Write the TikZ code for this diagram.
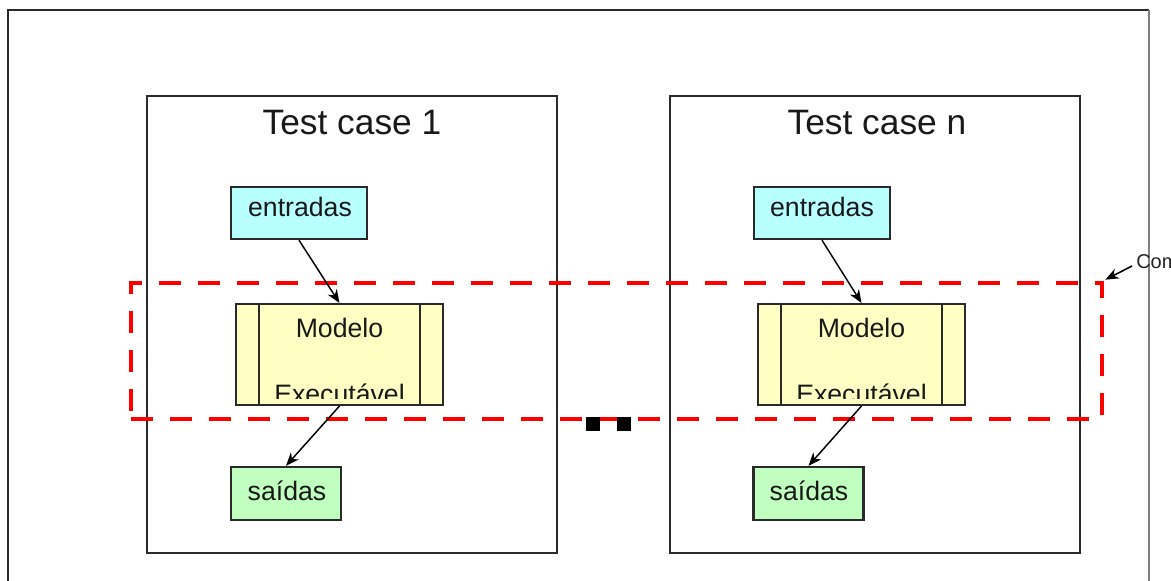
\documentclass[tikz,border=0pt]{standalone}
\usepackage{fontspec}
\setmainfont{Liberation Sans}
\usetikzlibrary{arrows.meta}
\definecolor{incyan}{HTML}{B8FFFF}
\definecolor{modyellow}{HTML}{FFFFC4}
\definecolor{outgreen}{HTML}{C0FFC0}
\definecolor{edge}{HTML}{2A2A2A}
\begin{document}
\begin{tikzpicture}[x=0.75pt,y=-0.75pt,
  casebox/.style={draw=edge,line width=1.8pt,minimum width=307.5pt,minimum height=342.75pt,inner sep=0pt},
  inbox/.style={draw=edge,line width=1.8pt,fill=incyan,minimum width=102pt,minimum height=39pt,inner sep=0pt},
  modbox/.style={draw=edge,line width=1.5pt,fill=modyellow,minimum width=155.25pt,minimum height=75.75pt,inner sep=0pt},
  outbox/.style={draw=edge,line width=1.8pt,fill=outgreen,minimum width=82.5pt,minimum height=39.75pt,inner sep=0pt},
  title/.style={font=\fontsize{26.5}{30}\selectfont,anchor=base,inner sep=0pt,text=black!90},
  lbl/.style={font=\fontsize{20}{23}\selectfont,anchor=base,inner sep=0pt,text=black!90},
  modlbl/.style={font=\fontsize{20}{24}\selectfont,anchor=base,inner sep=0pt,text=black!90},
  flow/.style={-{Stealth[length=10pt,width=8pt]},line width=1.1pt,draw=black},
  band/.style={draw=red,line width=3pt,dash pattern=on 16.5pt off 12.75pt,inner sep=0pt},
  dot/.style={fill=black,minimum size=10pt,inner sep=0pt}
]
\useasboundingbox (0,0) rectangle (1171,581);
\clip (0,0) rectangle (1171,581);

% outer frame (its lower edge lies below the page)
\draw[edge,line width=1.8pt] (8,600) -- (8,10) -- (1149,10);
\draw[gray,line width=1.8pt] (1149,10) -- (1149,600);

% the two test cases
\node[casebox] (tc1) at (352,324.5) {};
\node[casebox] (tcn) at (875,324.5) {};
\node[title] (t1) at (352,135) {Test case 1};
\node[title] (tn) at (877,135) {Test case n};

% inputs
\node[inbox] (e1) at (299,213) {};
\node[inbox] (en) at (822,213) {};
\node[lbl] (e1t) at (300,217) {entradas};
\node[lbl] (ent) at (822,217) {entradas};

% executable models
\foreach \nm/\cx in {m1/339.5,mn/861.5}{
  \node[modbox] (\nm) at (\cx,354.5) {};
  \draw[edge,line width=1.5pt] ([xshift=18pt]\nm.north west) -- ([xshift=18pt]\nm.south west);
  \draw[edge,line width=1.5pt] ([xshift=-18pt]\nm.north east) -- ([xshift=-18pt]\nm.south east);
  \node[modlbl] (\nm a) at (\cx,337) {Modelo};
  \begin{scope}
    \clip ([xshift=18pt]\nm.north west) rectangle (\cx+78,398);
    \node[modlbl] (\nm b) at (\cx,403) {Executável};
  \end{scope}
}

% outputs
\node[outbox] (s1) at (286,493.5) {};
\node[outbox] (sn) at (808.5,493.5) {};
\node[lbl] (s1t) at (287,500) {saídas};
\node[lbl] (snt) at (809,500) {saídas};

% highlighted band across the models
\node[band,minimum width=728.25pt,minimum height=102pt] (grp) at (616.5,351) {};

% ellipsis between the cases
\node[dot] (d1) at (593,424) {};
\node[dot] (d2) at (624,424) {};

% flow arrows
\draw[flow] (e1.south) -- (m1.north);
\draw[flow] (en.south) -- (mn.north);
\draw[flow] (m1.south) -- (s1.north);
\draw[flow] (mn.south) -- (sn.north);

% side note
\node[font=\fontsize{15}{17}\selectfont,anchor=west,inner sep=0pt,text=black!85] (com) at (1136,262) {Com};
\draw[-{Stealth[length=10pt,width=8pt]},line width=1.2pt] ([xshift=-3pt,yshift=-3pt]com.west) -- ([xshift=1pt,yshift=1pt]grp.north east);
\end{tikzpicture}
\end{document}
